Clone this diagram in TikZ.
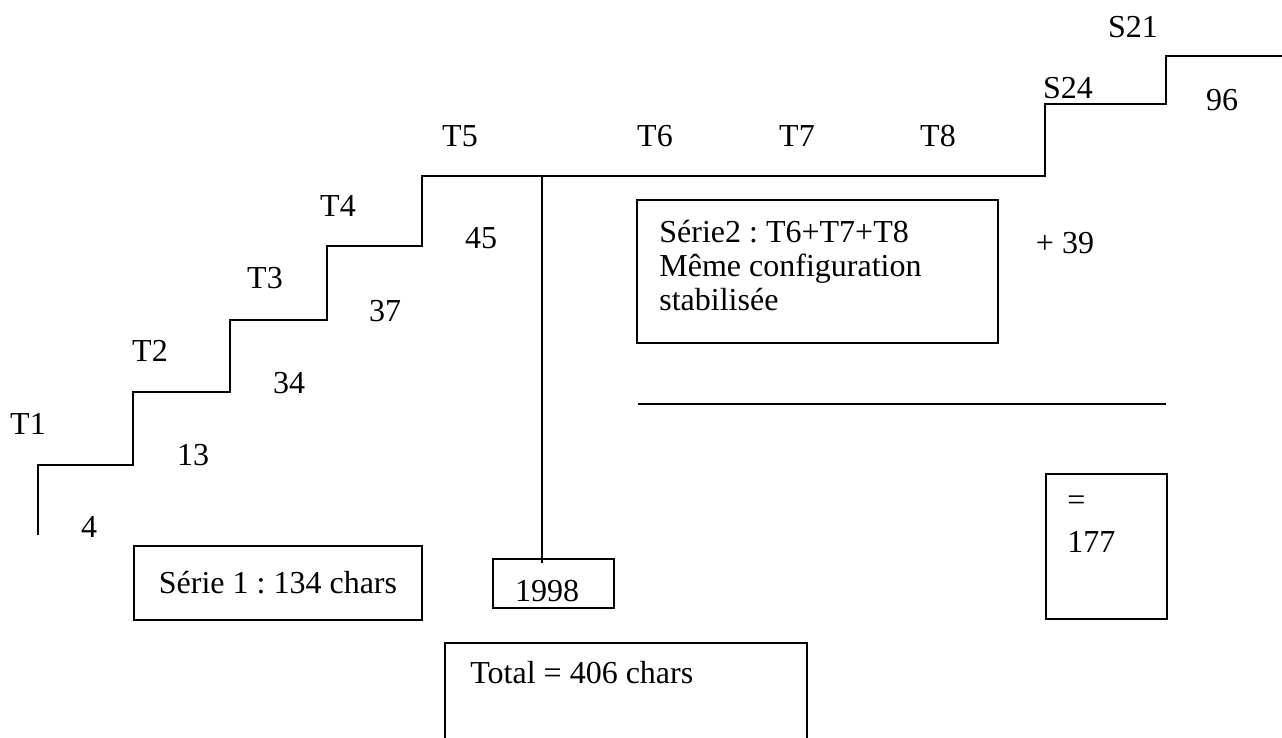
\documentclass[tikz,border=0pt]{standalone}
\usepackage{fontspec}
\setmainfont{Liberation Serif}
\usetikzlibrary{positioning}
\tikzstyle{Step} = [line width=0.8pt]
\tikzstyle{Frame} = [line width=1pt]
\tikzstyle{Block} = [draw, rectangle, Frame, inner sep=0pt, font=\fontsize{16}{17}\selectfont\frenchspacing]
\tikzstyle{Text} = [inner sep=0pt, font=\fontsize{16}{17}\selectfont\frenchspacing]

\begin{document}
\begin{tikzpicture}[x=0.5pt, y=-0.5pt]
    \useasboundingbox (0,0) rectangle (1282,738);
    % staircase
    \draw[Step] (38,535) |- (133,465) |- (230,392) |- (327,320) |- (422,246)
                |- (1045,176) |- (1166,104) |- (1282,56);
    \draw[Step] (542,176) -- (542,563);
    \draw[Step] (638,404) -- (1166,404);
    % step labels
    \node[Text] (t1)  at (28,424)   {T1};
    \node[Text] (t2)  at (150,351)  {T2};
    \node[Text] (t3)  at (265,278)  {T3};
    \node[Text] (t4)  at (338,206)  {T4};
    \node[Text] (t5)  at (460,136)  {T5};
    \node[Text] (t6)  at (655,136)  {T6};
    \node[Text] (t7)  at (797,136)  {T7};
    \node[Text] (t8)  at (938,136)  {T8};
    \node[Text] (s24) at (1068,88)  {S24};
    \node[Text] (s21) at (1133,27)  {S21};
    % counts
    \node[Text] (n4)  at (89,527)   {4};
    \node[Text] (n13) at (193,455)  {13};
    \node[Text] (n34) at (289,383)  {34};
    \node[Text] (n37) at (385,311)  {37};
    \node[Text] (n45) at (481,238)  {45};
    \node[Text] (n39) at (1065,243) {+ 39};
    \node[Text] (n96) at (1222,100) {96};
    % boxes
    \node[Block, minimum width=144pt, minimum height=37pt] (serie1) at (278,583) {Série 1 : 134 chars};
    \node[Block, minimum width=60.5pt, minimum height=24.5pt] (annee) at (553.5,583.5) {};
    \node[Text] (annee_txt) at (547,591) {1998};
    \node[Block, minimum height=71.5pt, text width=158.5pt, inner xsep=11pt, align=left] (serie2)
        at (817.5,271.5) {};
    \node[Text, anchor=north west, align=left] (serie2_txt) at (659,220)
        {Série2 : T6+T7+T8\\Même configuration\\stabilisée};
    \draw[Frame] (445,738) |- (807,643) -- (807,738);
    \node[Text, anchor=west] (total) at (470,673) {Total = 406 chars};
    \node[Block, minimum width=60.5pt, minimum height=72.5pt] (egal) at (1106.5,546.5) {};
    \node[Text, anchor=west] (egal_sign) at (1067,503) {=};
    \node[Text, anchor=west] (egal_val)  at (1067,542) {177};
\end{tikzpicture}
\end{document}
